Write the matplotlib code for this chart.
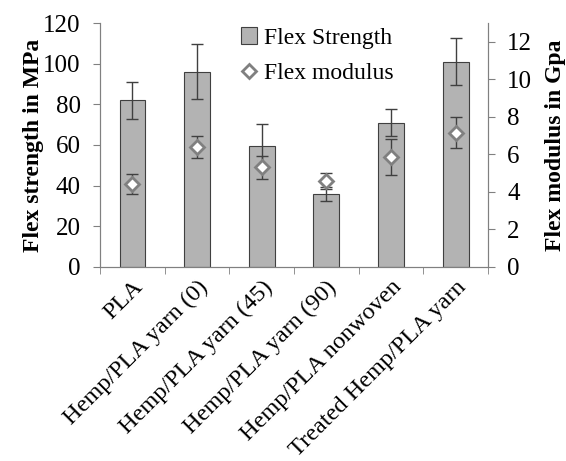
import numpy as np
import matplotlib.pyplot as plt

plt.rcParams['font.family'] = ['Liberation Serif', 'DejaVu Serif']

categories = ['PLA', 'Hemp/PLA yarn (0)', 'Hemp/PLA yarn (45)', 'Hemp/PLA yarn (90)',
              'Hemp/PLA nonwoven', 'Treated Hemp/PLA yarn']
strength = [82, 96, 59.5, 36, 71, 101]
strength_err = [9, 13.5, 11, 3.5, 6.8, 11.5]
modulus = [4.42, 6.4, 5.3, 4.58, 5.87, 7.15]
modulus_err = [0.55, 0.6, 0.6, 0.42, 0.95, 0.83]

fig = plt.figure(figsize=(5.66, 4.61), dpi=100)
ax = fig.add_axes([0.177, 0.421, 0.685, 0.529])
ax2 = ax.twinx()

x = np.arange(len(categories))
grey = '#808080'

ax.bar(x, strength, width=0.4, color='#b3b3b3', edgecolor='#404040', linewidth=0.8,
       label='Flex Strength', zorder=2)
ax.errorbar(x, strength, yerr=strength_err, fmt='none', ecolor='#404040',
            elinewidth=1, capsize=4, capthick=1, zorder=3)

ax2.errorbar(x, modulus, yerr=modulus_err, fmt='none', ecolor='#404040',
             elinewidth=1, capsize=4, capthick=1, zorder=3)
ax2.plot(x, modulus, linestyle='none', marker='D', markersize=7.5, markerfacecolor='white',
         markeredgecolor=grey, markeredgewidth=2, label='Flex modulus', zorder=4)

ax.set_xlim(-0.5, len(categories) - 0.5)
ax.set_ylim(0, 120)
ax.set_yticks(range(0, 121, 20))
ax2.set_ylim(0, 13)
ax2.set_yticks(range(0, 13, 2))

ax.set_xticks(x)
ax.set_xticklabels(categories, rotation=45, ha='right', rotation_mode='anchor', fontsize=17.5)
ax.set_xticks(np.arange(-0.5, len(categories)), minor=True)
ax.tick_params(axis='x', which='major', length=0, pad=7)
ax.tick_params(axis='x', which='minor', length=5, color=grey)
ax.tick_params(axis='y', labelsize=18, length=5, color=grey, pad=9)
ax2.tick_params(axis='y', labelsize=18, length=5, color=grey, pad=9)

for a in (ax, ax2):
    a.spines['top'].set_visible(False)
    for s in ('left', 'right', 'bottom'):
        a.spines[s].set_color(grey)

ax.set_ylabel('Flex strength in MPa', fontsize=17, fontweight='bold')
ax.yaxis.set_label_coords(-0.145, 0.5)
ax2.set_ylabel('Flex modulus in Gpa', fontsize=17, fontweight='bold', labelpad=9)

h1, l1 = ax.get_legend_handles_labels()
h2, l2 = ax2.get_legend_handles_labels()
ax2.legend(h1 + h2, l1 + l2, loc='upper center', bbox_to_anchor=(0.56, 1.07), frameon=False,
           fontsize=17, handlelength=0.7, handletextpad=0.3, labelspacing=0.6)

fig.savefig('out.png', dpi=100)
